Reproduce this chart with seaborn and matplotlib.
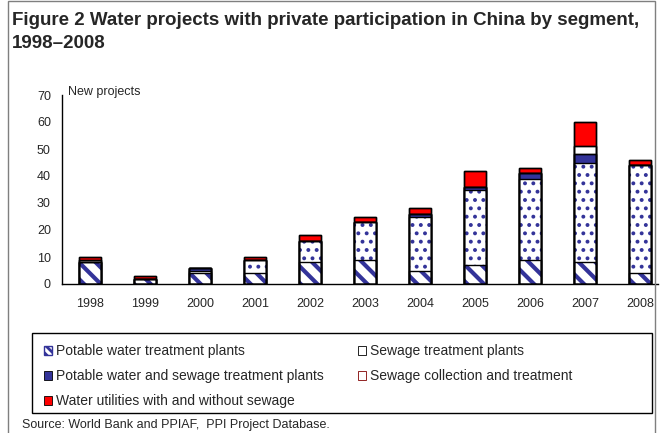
import numpy as np
import pandas as pd
import seaborn as sns
import matplotlib.pyplot as plt
from matplotlib.patches import Rectangle, Patch

# Dados
years = ['1998', '1999', '2000', '2001', '2002', '2003', '2004', '2005', '2006', '2007', '2008']
potable = [8, 2, 4, 4, 8, 9, 5, 7, 9, 8, 4]
sewage_treat = [0, 0, 1, 5, 8, 14, 20, 28, 30, 37, 40]
potable_sewage = [0, 0, 1, 0, 0, 0, 1, 1, 2, 3, 0]
sewage_coll = [1, 0, 0, 0, 0, 0, 0, 0, 0, 3, 0]
utilities = [1, 1, 0, 1, 2, 2, 2, 6, 2, 9, 2]

labels = ['Potable water treatment plants', 'Sewage treatment plants',
          'Potable water and sewage treatment plants', 'Sewage collection and treatment',
          'Water utilities with and without sewage']

navy = '#333399'
red = '#FF0000'

sns.set_style('white')
plt.rcParams['font.family'] = ['Liberation Sans', 'DejaVu Sans']

fig = plt.figure(figsize=(6.6, 4.33), dpi=100)
ax = fig.add_axes([62 / 660, 1 - 284 / 433, 596 / 660, 189 / 433])

df = pd.DataFrame({'year': years, 'potable': potable, 'sewage_treat': sewage_treat,
                   'potable_sewage': potable_sewage, 'sewage_coll': sewage_coll,
                   'utilities': utilities})
cols = ['potable', 'sewage_treat', 'potable_sewage', 'sewage_coll', 'utilities']
cum = df[cols].cumsum(axis=1)

# estilo de cada segmento: (cor, hatch, espessura do hatch)
styles = {
    'potable': ('white', '\\\\', 3.0),
    'sewage_treat': ('white', '..', 1.6),
    'potable_sewage': (navy, '', 1.0),
    'sewage_coll': ('white', '', 1.0),
    'utilities': (red, '', 1.0),
}

# barras empilhadas: desenhar do total para baixo
for c in reversed(cols):
    fc, h, hlw = styles[c]
    with plt.rc_context({'hatch.linewidth': hlw}):
        sns.barplot(x=df['year'], y=cum[c], ax=ax, color=fc, saturation=1, width=0.4,
                    hatch=h, edgecolor=navy if h else 'black', linewidth=0 if h else 1.0)

# contornos pretos
for c in reversed(cols):
    sns.barplot(x=df['year'], y=cum[c], ax=ax, fill=False, color='black',
                width=0.4, linewidth=1.0)

ax.set_xlim(-0.51, 10.32)
ax.set_ylim(0, 70)
ax.set_yticks(range(0, 71, 10))
ax.set_xlabel('')
ax.set_ylabel('')
sns.despine(ax=ax)
for s in ['left', 'bottom']:
    ax.spines[s].set_color('black')
    ax.spines[s].set_linewidth(1.0)
ax.tick_params(axis='y', direction='out', length=4, width=1, color='black', labelsize=9, pad=4)
ax.tick_params(axis='x', length=0, labelsize=9, pad=10)

fig.text(68 / 660, 1 - 92 / 433, 'New projects', fontsize=9, va='center', ha='left')

fig.text(12 / 660, 1 - 12 / 433,
         'Figure 2 Water projects with private participation in China by segment,\n1998\u20132008',
         fontsize=13.5, fontweight='bold', va='top', ha='left', linespacing=1.45)

# moldura externa
fig.patches.append(Rectangle((8 / 660, -0.05), 647 / 660, 1.05 - 1.5 / 433, transform=fig.transFigure,
                             fill=False, edgecolor='#7f7f7f', linewidth=1.0))
# caixa da legenda
fig.patches.append(Rectangle((32 / 660, 1 - 413 / 433), 620 / 660, 80 / 433, transform=fig.transFigure,
                             fill=False, edgecolor='black', linewidth=1.0))

with plt.rc_context({'hatch.linewidth': 2.0}):
    handles = [
        Patch(facecolor='white', edgecolor=navy, hatch='\\\\\\\\', label=labels[0]),
        Patch(facecolor=navy, edgecolor='black', linewidth=0.6, label=labels[2]),
        Patch(facecolor=red, edgecolor='black', linewidth=0.6, label=labels[4]),
        Patch(facecolor='white', edgecolor='black', linewidth=0.6, label=labels[1]),
        Patch(facecolor='white', edgecolor='#800000', linewidth=0.6, label=labels[3]),
    ]
    fig.legend(handles=handles, ncol=2, loc='upper left', bbox_to_anchor=(44 / 660, 1 - 344 / 433),
               frameon=False, fontsize=10, handlelength=0.6, handleheight=0.6, handletextpad=0.3,
               labelspacing=0.8, columnspacing=2.4, borderaxespad=0, borderpad=0)

fig.text(22 / 660, 1 - 425 / 433, 'Source: World Bank and PPIAF,  PPI Project Database.',
         fontsize=9, va='center', ha='left')

fig.savefig('out.png', dpi=100)
